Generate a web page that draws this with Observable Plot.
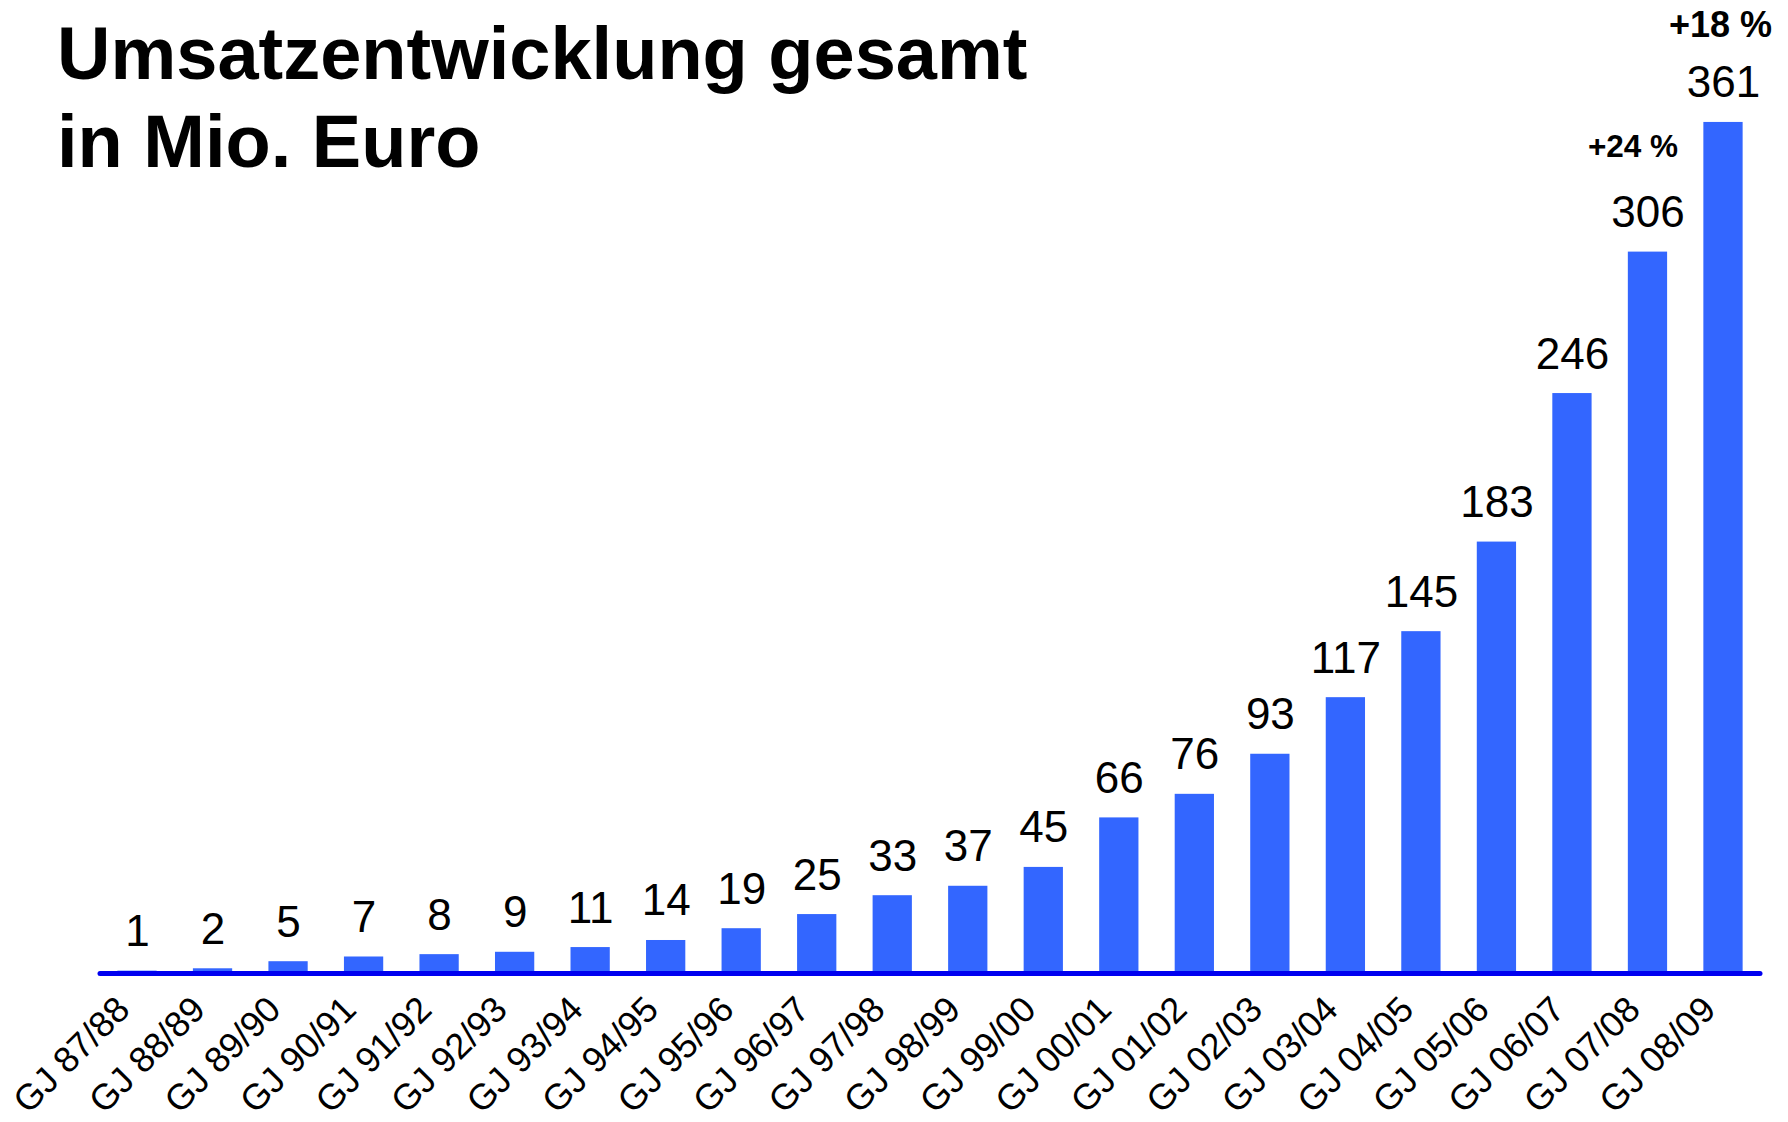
<!DOCTYPE html>
<html>
<head>
<meta charset="utf-8">
<script src="https://cdn.jsdelivr.net/npm/d3@7"></script>
<script src="https://cdn.jsdelivr.net/npm/@observablehq/plot@0.6"></script>
<style>
  html, body { margin: 0; padding: 0; background: white; }
  #wrap { position: relative; width: 1788px; height: 1122px; }
  #title {
    position: absolute; left: 57px; top: 10px;
    font-family: "Liberation Sans", Arial, sans-serif;
    font-weight: bold; font-size: 74px; line-height: 88px; color: black;
    white-space: nowrap;
  }
</style>
</head>
<body>
<div id="wrap">
  <div id="chart"></div>
  <div id="title">Umsatzentwicklung gesamt<br>in Mio. Euro</div>
</div>
<script>
const years = ["GJ 87/88","GJ 88/89","GJ 89/90","GJ 90/91","GJ 91/92","GJ 92/93","GJ 93/94","GJ 94/95","GJ 95/96","GJ 96/97","GJ 97/98","GJ 98/99","GJ 99/00","GJ 00/01","GJ 01/02","GJ 02/03","GJ 03/04","GJ 04/05","GJ 05/06","GJ 06/07","GJ 07/08","GJ 08/09"];
const revenue = [1,2,5,7,8,9,11,14,19,25,33,37,45,66,76,93,117,145,183,246,306,361];
const growthYears = ["GJ 07/08","GJ 08/09"];
const growthLabels = ["+24 %","+18 %"];

const data = years.map((year, i) => ({year, value: revenue[i]}));
const growth = growthYears.map((year, i) => ({year, value: revenue[years.indexOf(year)], label: growthLabels[i]}));

const chart = Plot.plot({
  width: 1788,
  height: 1122,
  marginLeft: 100,
  marginRight: 28,
  marginTop: 30,
  marginBottom: 149,
  style: {fontFamily: "'Liberation Sans', Arial, sans-serif", background: "white", color: "black"},
  x: {domain: years, paddingInner: 0.48, paddingOuter: 0.23, round: false, label: null},
  y: {domain: [0, 400], axis: null},
  marks: [
    Plot.barY(data, {x: "year", y: "value", fill: "#3366ff"}),
    Plot.ruleY([0], {stroke: "#0000f0", strokeWidth: 5, strokeLinecap: "round"}),
    Plot.text(data, {x: "year", y: "value", text: d => String(d.value), lineAnchor: "bottom", dy: -25, fontSize: 44, fill: "black"}),
    Plot.text(growth.filter(d => d.year === "GJ 07/08"), {x: "year", y: "value", text: "label", lineAnchor: "bottom", dy: -95, dx: -15, fontSize: 31.5, fontWeight: "bold", fill: "black"}),
    Plot.text(growth.filter(d => d.year === "GJ 08/09"), {x: "year", y: "value", text: "label", lineAnchor: "bottom", dy: -85, dx: -3, fontSize: 36, fontWeight: "bold", fill: "black"}),
    Plot.axisX({tickRotate: -45, tickSize: 0, tickPadding: 30, dx: -14, fontSize: 36, label: null})
  ]
});
document.getElementById("chart").appendChild(chart);
</script>
</body>
</html>
